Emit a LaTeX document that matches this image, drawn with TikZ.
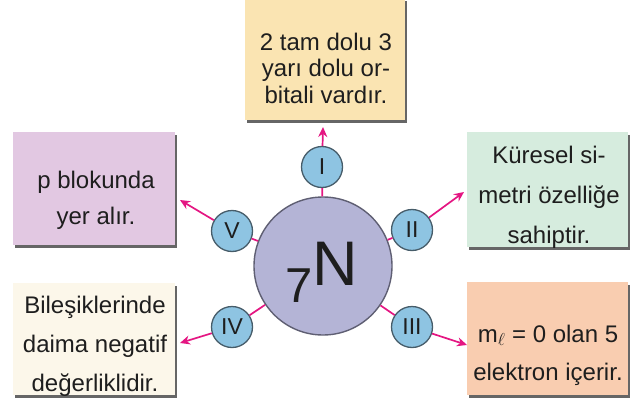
\documentclass[tikz,border=0pt]{standalone}
\usepackage{fontspec}
\setmainfont{Liberation Sans}
\usetikzlibrary{shadows,arrows.meta}
\definecolor{magarr}{RGB}{228,22,130}
\definecolor{boxI}{RGB}{250,228,178}
\definecolor{boxII}{RGB}{214,236,222}
\definecolor{boxIII}{RGB}{249,205,176}
\definecolor{boxIV}{RGB}{252,247,234}
\definecolor{boxV}{RGB}{226,200,226}
\definecolor{bigfill}{RGB}{180,180,214}
\definecolor{bigdraw}{RGB}{95,95,115}
\definecolor{smallfill}{RGB}{142,196,226}
\definecolor{smalldraw}{RGB}{70,92,105}
\definecolor{txt}{RGB}{30,30,30}
\tikzset{
  infobox/.style={rectangle, inner sep=0pt,
    drop shadow={shadow xshift=2pt, shadow yshift=-2.5pt, fill=black!60, opacity=1}},
  boxtext/.style={anchor=base, inner sep=0pt, align=center, text=txt},
  ballnode/.style={circle, minimum size=41pt, inner sep=0pt, fill=smallfill,
    draw=smalldraw, line width=1.3pt, text=txt, font=\fontsize{23}{23}\selectfont},
  bigball/.style={circle, minimum size=138pt, inner sep=0pt, fill=bigfill,
    draw=bigdraw, line width=1.4pt},
  conn/.style={draw=magarr, line width=1.7pt},
  arr/.style={draw=magarr, line width=1.7pt, -{Stealth[length=10pt,width=9pt]}}
}
\begin{document}
\begin{tikzpicture}[x=1pt,y=-1pt]
\useasboundingbox (0,0) rectangle (636,401);
% boxes
\node[infobox, fill=boxI, minimum width=160pt, minimum height=121pt] (b1) at (325,59.5) {};
\node[infobox, fill=boxII, minimum width=161pt, minimum height=115pt] (b2) at (547.5,189.5) {};
\node[infobox, fill=boxIII, minimum width=161pt, minimum height=113pt] (b3) at (547.5,338.5) {};
\node[infobox, fill=boxIV, minimum width=162pt, minimum height=112pt] (b4) at (94,339) {};
\node[infobox, fill=boxV, minimum width=162pt, minimum height=113pt] (b5) at (94,188.5) {};
% box texts (anchor = baseline of last line)
\node[boxtext, font=\fontsize{24}{26.5}\selectfont] (l1) at (326,103)
  {2 tam dolu 3\\yarı dolu or-\\bitali vardır.};
\node[boxtext, font=\fontsize{24}{40}\selectfont] (l2) at (549,243)
  {Küresel si-\\metri özelliğe\\sahiptir.};
\node[boxtext, font=\fontsize{24}{38}\selectfont] (l3) at (548,380)
  {m$_\ell$ = 0 olan 5\\elektron içerir.};
\node[boxtext, font=\fontsize{24}{39}\selectfont] (l4) at (95,391)
  {Bileşiklerinde\\daima negatif\\değerliklidir.};
\node[boxtext, font=\fontsize{24}{36}\selectfont] (l5) at (96,224)
  {p blokunda\\yer alır.};
% central atom
\node[bigball] (N) at (323,266) {};
\node[anchor=base west, inner sep=0pt, text=txt] (sym) at (285,302)
  {\fontsize{49}{49}\selectfont 7\raisebox{17pt}{\fontsize{63}{63}\selectfont N}};
% small circles
\node[ballnode] (c1) at (322,167) {I};
\node[ballnode] (c2) at (412,230) {II};
\node[ballnode] (c3) at (412,327) {III};
\node[ballnode] (c4) at (232,327) {IV};
\node[ballnode] (c5) at (232,231) {V};
% arrow tips
\coordinate (p1) at (323,127);
\coordinate (p2) at (464,192);
\coordinate (p3) at (467,345);
\coordinate (p4) at (180,343);
\coordinate (p5) at (180,200);
% connectors
\draw[conn] (N) -- (c1);
\draw[conn] (N) -- (c2);
\draw[conn] (N) -- (c3);
\draw[conn] (N) -- (c4);
\draw[conn] (N) -- (c5);
\draw[arr] (c1) -- (p1);
\draw[arr] (c2) -- (p2);
\draw[arr] (c3) -- (p3);
\draw[arr] (c4) -- (p4);
\draw[arr] (c5) -- (p5);
\end{tikzpicture}
\end{document}
